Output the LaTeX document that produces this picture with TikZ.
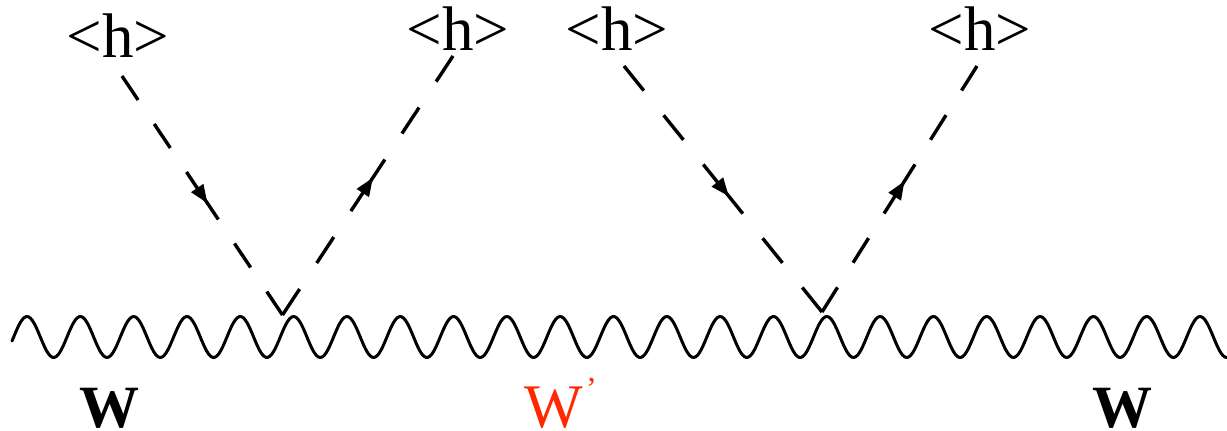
\documentclass[tikz,border=0pt]{standalone}
\usepackage{fontspec}
\setmainfont{Liberation Serif}
\usetikzlibrary{decorations.markings}
\definecolor{wprime}{RGB}{255,40,0}
\tikzset{
  hlbl/.style={anchor=base, inner sep=0pt, font=\fontsize{63}{70}\selectfont},
  wlbl/.style={anchor=base, inner sep=0pt, font=\fontsize{60}{66}\selectfont\bfseries},
  wplbl/.style={anchor=base, inner sep=0pt, text=wprime, font=\fontsize{62}{66}\selectfont},
  scalar/.style={line width=3.4pt, line cap=butt},
  wave/.style={line width=3pt, line join=round, line cap=round},
  midarrow/.style={postaction={decorate}, decoration={markings,
    mark=at position 0.5 with {\fill (9pt,0pt) -- (-9pt,7.5pt) -- (-9pt,-7.5pt) -- cycle;}}},
}
% dashed scalar line with a centred arrow; each half starts and ends with a dash
\newcommand\scalarline[3]{%
  \path (#1) -- (#2) coordinate[pos=0.5] (#1#2mid);
  \draw[scalar, dash pattern=on #3pt off #3pt] (#1) -- (#1#2mid);
  \draw[scalar, dash pattern=on #3pt off #3pt] (#1#2mid) -- (#2);
  \path[midarrow] (#1) -- (#2);
}
\begin{document}
\begin{tikzpicture}[x=1pt, y=-1pt]
  \useasboundingbox (0,0) rectangle (1227,431);

  % Higgs vev labels
  \node[hlbl] (h1) at (118,57) {<h>};
  \node[hlbl] (h2) at (458,50) {<h>};
  \node[hlbl] (h3) at (617,50) {<h>};
  \node[hlbl] (h4) at (980,50) {<h>};

  % free ends of the scalar lines and the two vertices
  \coordinate (a1) at (122,76);
  \coordinate (a2) at (453,56);
  \coordinate (a3) at (624,66);
  \coordinate (a4) at (977,66);
  \coordinate (v1) at (282.5,315);
  \coordinate (v2) at (822,312);

  % gauge boson line (period 53.32, so 360/53.32 = 6.7517 degrees per unit)
  \draw[wave] plot[domain=12:1227, samples=600, smooth]
    (\x, {337 - 20.5*cos((\x-27)*6.7517)});

  % scalar insertions
  \scalarline{a1}{v1}{28.9}
  \scalarline{v1}{a2}{31.1}
  \scalarline{a3}{v2}{31.6}
  \scalarline{v2}{a4}{29.1}

  % boson labels
  \node[wlbl] (w1) at (109,427) {W};
  \node[wplbl] (w2) at (554,427) {W};
  \node[inner sep=0pt, text=wprime, font=\fontsize{32}{32}\selectfont] (w2p) at (591.5,389) {’};
  \node[wlbl] (w3) at (1122.5,427) {W};
\end{tikzpicture}
\end{document}
